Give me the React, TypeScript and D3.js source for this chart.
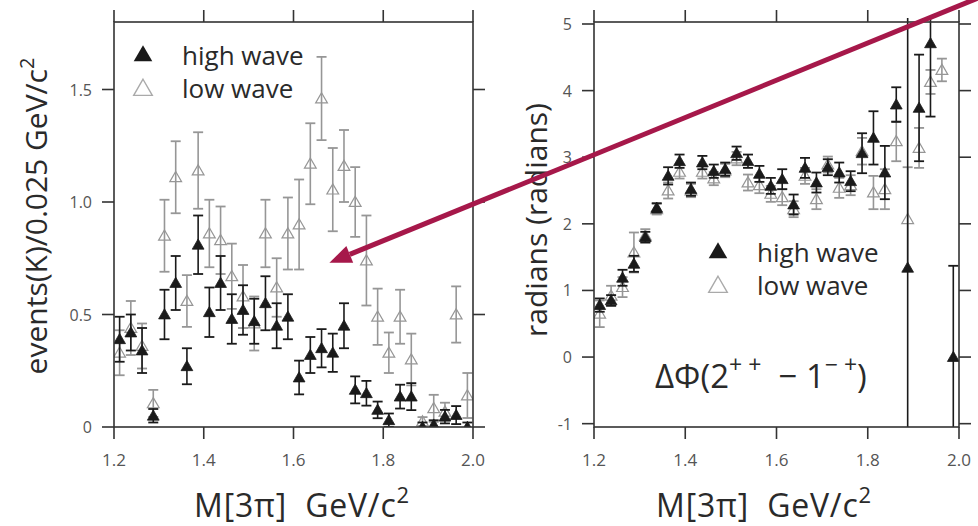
import React from "react";
import * as d3 from "d3";

// ---- data ----
const masses = [
  1.2125, 1.2375, 1.2625, 1.2875, 1.3125, 1.3375, 1.3625, 1.3875,
  1.4125, 1.4375, 1.4625, 1.4875, 1.5125, 1.5375, 1.5625, 1.5875,
  1.6125, 1.6375, 1.6625, 1.6875, 1.7125, 1.7375, 1.7625, 1.7875,
  1.8125, 1.8375, 1.8625, 1.8875, 1.9125, 1.9375, 1.9625, 1.9875,
];

const highEvents = [
  0.39, 0.42, 0.34, 0.05, 0.5, 0.64, 0.27, 0.81,
  0.51, 0.64, 0.48, 0.52, 0.47, 0.55, 0.45, 0.49,
  0.22, 0.32, 0.35, 0.33, 0.45, 0.165, 0.15, 0.076,
  0.03, 0.135, 0.135, 0.0, 0.01, 0.046, 0.053, 0.0,
];
const highEventsErr = [
  0.1, 0.08, 0.1, 0.03, 0.11, 0.12, 0.08, 0.13,
  0.11, 0.12, 0.11, 0.11, 0.1, 0.12, 0.1, 0.1,
  0.075, 0.08, 0.085, 0.085, 0.1, 0.06, 0.055, 0.037,
  0.03, 0.053, 0.06, 0.02, 0.02, 0.03, 0.04, 0.02,
];
const lowEvents = [
  0.33, 0.44, 0.36, 0.105, 0.85, 1.11, 0.56, 1.14,
  0.86, 0.83, 0.67, 0.58, 0.46, 0.86, 0.62, 0.86,
  0.9, 1.17, 1.46, 1.055, 1.16, 1.0, 0.74, 0.49,
  0.33, 0.49, 0.3, 0.024, 0.083, 0.068, 0.5, 0.14,
];
const lowEventsErr = [
  0.1, 0.12, 0.1, 0.06, 0.16, 0.16, 0.115, 0.17,
  0.15, 0.15, 0.145, 0.14, 0.12, 0.15, 0.13, 0.16,
  0.2, 0.18, 0.185, 0.185, 0.16, 0.155, 0.2, 0.125,
  0.09, 0.12, 0.115, 0.02, 0.06, 0.04, 0.125, 0.1,
];

const highPhase: (number | null)[] = [
  0.78, 0.85, 1.19, 1.4, 1.8, 2.24, 2.72, 2.94,
  2.52, 2.92, 2.79, 2.82, 3.06, 2.94, 2.75, 2.57,
  2.67, 2.29, 2.84, 2.62, 2.85, 2.77, 2.64, 3.06,
  3.29, 2.77, 3.79, 1.34, 3.74, 4.71, null, 0.0,
];
const highPhaseErr = [
  0.1, 0.08, 0.12, 0.12, 0.08, 0.07, 0.13, 0.1,
  0.1, 0.1, 0.1, 0.1, 0.1, 0.1, 0.12, 0.12,
  0.15, 0.15, 0.15, 0.15, 0.12, 0.15, 0.15, 0.3,
  0.4, 0.4, 0.26, 7.0, 0.8, 1.1, 0, 1.37,
];
const lowPhase: (number | null)[] = [
  0.65, 0.92, 1.05, 1.57, 1.82, 2.22, 2.5, 2.78,
  2.5, 2.78, 2.68, 2.8, 2.98, 2.62, 2.58, 2.45,
  2.4, 2.22, 2.72, 2.37, 2.89, 2.54, 2.58, 3.09,
  2.47, 2.52, 3.24, 2.07, 3.14, 4.13, 4.31, null,
];
const lowPhaseErr = [
  0.2, 0.15, 0.15, 0.3, 0.1, 0.08, 0.12, 0.1,
  0.1, 0.1, 0.1, 0.1, 0.1, 0.12, 0.12, 0.12,
  0.12, 0.12, 0.12, 0.15, 0.12, 0.15, 0.15, 0.2,
  0.25, 0.3, 0.3, 0.78, 0.3, 0.18, 0.17, 0,
];

const xTicks = [1.2, 1.4, 1.6, 1.8, 2.0];
const yTicksEvents = [0, 0.5, 1.0, 1.5];
const yTicksPhase = [-1, 0, 1, 2, 3, 4, 5];
const legendLabels = ["high wave", "low wave"];

// ---- styles ----
const W = 978;
const H = 526;
const FONT = "'Open Sans', 'Noto Sans', sans-serif";
const AXIS = "#333";
const TICKTXT = "#555";
const BLACK = "#1a1a1a";
const GREY = "#969696";
const ARROW = "#A6184A";
const TITLE = "#2a2a2a";

type Panel = {
  x0: number;
  x1: number;
  y0: number;
  y1: number;
  yDomain: [number, number];
  yTicks: number[];
  fmt: (v: number) => string;
};

const left: Panel = {
  x0: 114, x1: 473, y0: 22, y1: 427,
  yDomain: [0, 1.8], yTicks: yTicksEvents,
  fmt: (v) => (v === 0 ? "0" : d3.format(".1f")(v)),
};
const right: Panel = {
  x0: 594, x1: 959, y0: 22, y1: 427,
  yDomain: [-1.05, 5.03], yTicks: yTicksPhase,
  fmt: (v) => String(v),
};

const triPath = (size: number) => d3.symbol(d3.symbolTriangle, size)()!;

function Series({ xs, ys, vals, errs, color, filled, clip }: any) {
  const cap = 5;
  const t = triPath(60);
  return (
    <g clipPath={`url(#${clip})`}>
      {masses.map((m, i) => {
        const v = vals[i];
        if (v === null || v === undefined) return null;
        const e = errs[i];
        const cx = xs(m);
        const cy = ys(v);
        const yt = ys(v + e);
        const yb = ys(v - e);
        return (
          <g key={i}>
            <line x1={cx} x2={cx} y1={yt} y2={yb} stroke={color} strokeWidth={1.6} />
            <line x1={cx - cap} x2={cx + cap} y1={yt} y2={yt} stroke={color} strokeWidth={1.8} />
            <line x1={cx - cap} x2={cx + cap} y1={yb} y2={yb} stroke={color} strokeWidth={1.8} />
            <path
              d={t}
              transform={`translate(${cx},${cy + 1})`}
              fill={filled ? color : "none"}
              stroke={color}
              strokeWidth={filled ? 0.8 : 1.2}
            />
          </g>
        );
      })}
    </g>
  );
}

function Frame({ p, xs, ys }: any) {
  const tl = 12;
  return (
    <g>
      <rect x={p.x0} y={p.y0} width={p.x1 - p.x0} height={p.y1 - p.y0} fill="none" stroke={AXIS} strokeWidth={1.6} />
      {xTicks.map((t) => (
        <g key={"x" + t}>
          <line x1={xs(t)} x2={xs(t)} y1={p.y1} y2={p.y1 + tl} stroke={AXIS} strokeWidth={1.6} />
          <line x1={xs(t)} x2={xs(t)} y1={p.y0} y2={p.y0 - tl} stroke={AXIS} strokeWidth={1.6} />
          <text x={xs(t)} y={p.y1 + 39} textAnchor="middle" fontSize={17} fill={TICKTXT} fontFamily={FONT}>
            {d3.format(".1f")(t)}
          </text>
        </g>
      ))}
      {p.yTicks.map((t: number) => (
        <g key={"y" + t}>
          <line x1={p.x0 - tl} x2={p.x0} y1={ys(t)} y2={ys(t)} stroke={AXIS} strokeWidth={1.6} />
          <line x1={p.x1} x2={p.x1 + tl} y1={ys(t)} y2={ys(t)} stroke={AXIS} strokeWidth={1.6} />
          <text x={p.x0 - 22} y={ys(t) + 6} textAnchor="end" fontSize={16} fill={TICKTXT} fontFamily={FONT}>
            {p.fmt(t)}
          </text>
        </g>
      ))}
    </g>
  );
}

function Legend({ x, y }: { x: number; y: number }) {
  const t = triPath(150);
  return (
    <g fontFamily={FONT} fontSize={26} fill={TITLE}>
      <path d={t} transform={`translate(${x},${y})`} fill={BLACK} />
      <text x={x + 39} y={y + 9}>{legendLabels[0]}</text>
      <path d={t} transform={`translate(${x},${y + 34})`} fill="none" stroke="#aaa" strokeWidth={1.4} />
      <text x={x + 39} y={y + 42}>{legendLabels[1]}</text>
    </g>
  );
}

function XTitle({ cx }: { cx: number }) {
  return (
    <text
      x={cx}
      y={517}
      textAnchor="middle"
      fontFamily={FONT}
      fontSize={32}
      letterSpacing={0.8}
      fill={TITLE}
      style={{ whiteSpace: "pre" }}
    >
      {"M[3π]  GeV/c"}
      <tspan dy={-14} fontSize={22}>2</tspan>
    </text>
  );
}

export default function App() {
  const xL = d3.scaleLinear().domain([1.2, 2.0]).range([left.x0, left.x1]);
  const yL = d3.scaleLinear().domain(left.yDomain).range([left.y1, left.y0]);
  const xR = d3.scaleLinear().domain([1.2, 2.0]).range([right.x0, right.x1]);
  const yR = d3.scaleLinear().domain(right.yDomain).range([right.y1, right.y0]);

  const tipX = xL(1.68);
  const tipY = yL(0.73);
  const tailX = W;
  const tailY = -2;
  const ang = Math.atan2(tipY - tailY, tipX - tailX);
  const headLen = 22;
  const headW = 9;
  const bx = tipX - headLen * Math.cos(ang);
  const by = tipY - headLen * Math.sin(ang);
  const px = -Math.sin(ang) * headW;
  const py = Math.cos(ang) * headW;

  return (
    <svg width={W} height={H} style={{ position: "absolute", left: 0, top: 0, background: "#fff" }}>
      <defs>
        <clipPath id="clipL">
          <rect x={left.x0} y={left.y0} width={left.x1 - left.x0} height={left.y1 - left.y0} />
        </clipPath>
        <clipPath id="clipR">
          <rect x={right.x0} y={right.y0 - 4} width={right.x1 - right.x0} height={right.y1 - right.y0 + 4} />
        </clipPath>
      </defs>

      {/* left panel */}
      <Series xs={xL} ys={yL} vals={lowEvents} errs={lowEventsErr} color={GREY} filled={false} clip="clipL" />
      <Series xs={xL} ys={yL} vals={highEvents} errs={highEventsErr} color={BLACK} filled={true} clip="clipL" />
      <Frame p={left} xs={xL} ys={yL} />
      <Legend x={143} y={56} />
      <text
        transform={`translate(${47},${216}) rotate(-90)`}
        textAnchor="middle"
        fontFamily={FONT}
        fontSize={30}
        fill={TITLE}
      >
        events(K)/0.025 GeV/c<tspan dy={-13} fontSize={20}>2</tspan>
      </text>
      <XTitle cx={302} />

      {/* right panel */}
      <Series xs={xR} ys={yR} vals={lowPhase} errs={lowPhaseErr} color={GREY} filled={false} clip="clipR" />
      <Series xs={xR} ys={yR} vals={highPhase} errs={highPhaseErr} color={BLACK} filled={true} clip="clipR" />
      <Frame p={right} xs={xR} ys={yR} />
      <Legend x={718} y={253} />
      <text x={655} y={388} fontFamily={FONT} fontSize={33} fill={TITLE} style={{ whiteSpace: "pre" }}>
        {"ΔΦ(2"}
        <tspan dy={-15} fontSize={23}>{"+ +"}</tspan>
        <tspan dy={15}>{"  − 1"}</tspan>
        <tspan dy={-15} fontSize={23}>{"− +"}</tspan>
        <tspan dy={15}>{")"}</tspan>
      </text>
      <text
        transform={`translate(${547},${220}) rotate(-90)`}
        textAnchor="middle"
        fontFamily={FONT}
        fontSize={30}
        fill={TITLE}
      >
        radians (radians)
      </text>
      <XTitle cx={764} />

      {/* arrow annotation */}
      <line x1={tailX} y1={tailY} x2={bx} y2={by} stroke={ARROW} strokeWidth={5} />
      <path d={`M${tipX},${tipY} L${bx + px},${by + py} L${bx - px},${by - py} Z`} fill={ARROW} />
    </svg>
  );
}
